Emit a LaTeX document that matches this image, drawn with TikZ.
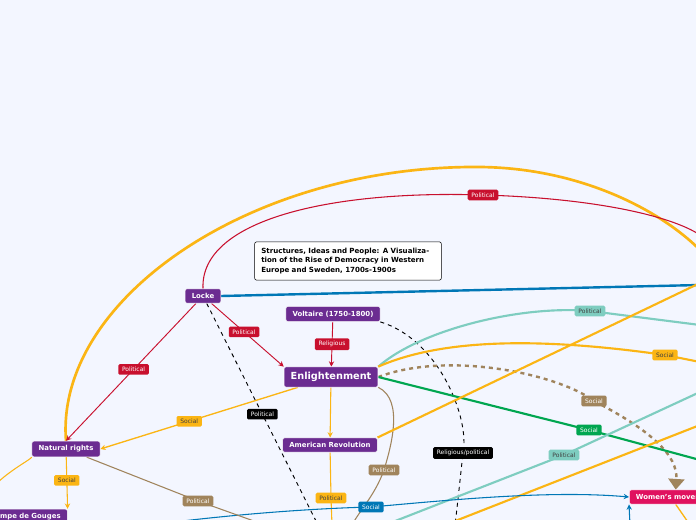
\documentclass[tikz,border=0pt]{standalone}
\usepackage{fontspec}
\setmainfont{DejaVu Sans}
\usetikzlibrary{arrows.meta,positioning,backgrounds}
\definecolor{bgcol}{HTML}{F3F6FF}
\definecolor{purp}{HTML}{6B2C91}
\definecolor{redc}{HTML}{C8102E}
\definecolor{yelc}{HTML}{FBB514}
\definecolor{tealc}{HTML}{7ECDC0}
\definecolor{brwn}{HTML}{A0845C}
\definecolor{grnc}{HTML}{00A650}
\definecolor{bluec}{HTML}{0077B6}
\definecolor{pinkc}{HTML}{E0115F}
\tikzset{
  topic/.style={fill=purp,text=white,rounded corners=1.5pt,font=\fontsize{5.2}{6}\selectfont\bfseries,
    inner xsep=5pt,inner ysep=3.4pt,draw=white,line width=0.4pt},
  lab/.style={fill=#1,rounded corners=1pt,font=\fontsize{4.5}{5}\selectfont,text=white,inner xsep=2.8pt,inner ysep=2.2pt},
  dlab/.style={lab=#1,text=black!75},
  arr/.style={-{Stealth[length=4pt,width=4pt]}}
}
\begin{document}
\begin{tikzpicture}[x=0.75pt,y=-0.75pt]
  \useasboundingbox (0,0) rectangle (696,520);
  \clip (0,0) rectangle (696,520);
  % free ends at the border
  \coordinate (eRed) at (700,235);
  \coordinate (eYelTop) at (700,250);
  \coordinate (eBlue) at (700,285);
  \coordinate (eTeal) at (700,325);
  \coordinate (eYel) at (700,362);
  \coordinate (eGrn) at (700,460);
  \coordinate (eYelAR) at (700,283);
  \coordinate (eTealB) at (700,392);
  \coordinate (sTealB) at (385,525);
  \coordinate (sYelB) at (445,525);
  \coordinate (eYelB) at (700,425);
  \coordinate (eDashL) at (318,525);
  \coordinate (eDashV) at (455,525);
  \coordinate (eBrnE) at (352,525);
  \coordinate (eYelAR2) at (332,525);
  \coordinate (eBrnN) at (265,525);
  \coordinate (sBlue) at (150,525);
  \coordinate (sBlue2) at (630,525);
  \coordinate (eYelN) at (-5,485);
  \coordinate (eYelW) at (690,525);
  % nodes
  \node[topic] (locke) at (203,296) {Locke};
  \node[topic] (volt) at (333,314) {Voltaire (1750-1800)};
  \node[topic,font=\fontsize{7.3}{8}\selectfont\bfseries,inner ysep=4pt] (enl) at (331,377) {Enlightenment};
  \node[topic] (amrev) at (330,445) {American Revolution};
  \node[topic] (natr) at (66,449) {Natural rights};
  \node[topic] (olym) at (24,517) {Olympe de Gouges};
  \node[topic,fill=pinkc,anchor=west] (women) at (629,497) {Women's movement};
  \node[draw=black,fill=white,rounded corners=1.5pt,text width=130pt,align=left,
    font=\fontsize{5.3}{6.8}\selectfont\bfseries,inner sep=5pt] (title) at (348,261)
    {Structures, Ideas and People: A Visualization of the Rise of Democracy in Western Europe and Sweden, 1700s-1900s};
  % connectors
  \begin{scope}[on background layer]
  \fill[bgcol] (0,0) rectangle (696,520);
  \draw[yelc,line width=2pt] (natr.north) .. controls (55,300) and (250,165) .. (480,167) .. controls (580,168) and (660,210) .. (eYelTop);
  \draw[redc,line width=0.8pt] (locke.north) .. controls (200,220) and (330,190) .. (483,195) node[lab=redc]{Political} .. controls (590,198) and (670,215) .. (eRed);
  \draw[bluec,line width=1.8pt] (locke.east) -- (eBlue);
  \draw[redc,line width=0.7pt,arr] (locke) -- node[lab=redc,pos=0.45]{Political} (enl.north west);
  \draw[redc,line width=0.7pt,arr] (locke) -- node[lab=redc,pos=0.48]{Political} (natr.north);
  \draw[redc,line width=0.7pt,arr] (volt) -- node[lab=redc]{Religious} (enl);
  \draw[black,dashed,line width=0.7pt] (locke) -- node[lab=black,pos=0.5]{Political} (eDashL);
  \draw[black,dashed,line width=0.7pt] (volt.south east) .. controls (440,340) and (470,420) .. (463,453) node[lab=black]{Religious/political} .. controls (460,480) and (458,500) .. (eDashV);
  \draw[tealc,line width=1.6pt] (enl.north east) .. controls (420,330) and (520,305) .. (590,311) node[dlab=tealc]{Political} -- (eTeal);
  \draw[yelc,line width=1.6pt] (enl.north east) .. controls (450,335) and (560,340) .. (665,355) node[dlab=yelc]{Social} -- (eYel);
  \draw[brwn,line width=1.8pt,dashed,-{Triangle[length=8pt,width=12pt]}] (enl.east) .. controls (450,350) and (560,375) .. (594,401) node[lab=brwn]{Social} .. controls (650,430) and (678,455) .. (women.north);
  \draw[grnc,line width=1.6pt] (enl.east) -- (589,430) node[lab=grnc]{Social} -- (eGrn);
  \draw[yelc,line width=1pt,arr] (enl) -- node[lab=yelc,text=black!75,pos=0.55]{Social} (natr.east);
  \draw[yelc,line width=0.8pt,arr] (enl) -- (amrev);
  \draw[brwn,line width=0.8pt] (enl.south east) .. controls (405,400) and (390,450) .. (384,470) node[lab=brwn]{Political} .. controls (375,495) and (360,510) .. (eBrnE);
  \draw[yelc,line width=1.6pt] (amrev.north east) -- (eYelAR);
  \draw[yelc,line width=0.8pt] (amrev) -- (331,498) node[dlab=yelc]{Political} -- (eYelAR2);
  \draw[tealc,line width=1.6pt] (sTealB) -- (564,455) node[dlab=tealc]{Political} -- (eTealB);
  \draw[yelc,line width=1.6pt] (sYelB) -- (eYelB);
  \draw[bluec,line width=0.8pt,arr] (sBlue) .. controls (250,512) and (330,508) .. (371,507) node[lab=bluec]{Social} .. controls (450,500) and (550,490) .. (women.west);
  \draw[bluec,line width=0.8pt,arr] (sBlue2) -- (women.south west);
  \draw[yelc,line width=1pt] (women.south) -- (eYelW);
  \draw[brwn,line width=0.8pt] (natr) -- (198,501) node[lab=brwn]{Political} -- (eBrnN);
  \draw[yelc,line width=0.8pt,arr] (natr) -- node[dlab=yelc,pos=0.45]{Social} (olym.north east);
  \draw[yelc,line width=0.8pt] (natr.south west) .. controls (30,460) and (10,470) .. (eYelN);
  \end{scope}
\end{tikzpicture}
\end{document}
